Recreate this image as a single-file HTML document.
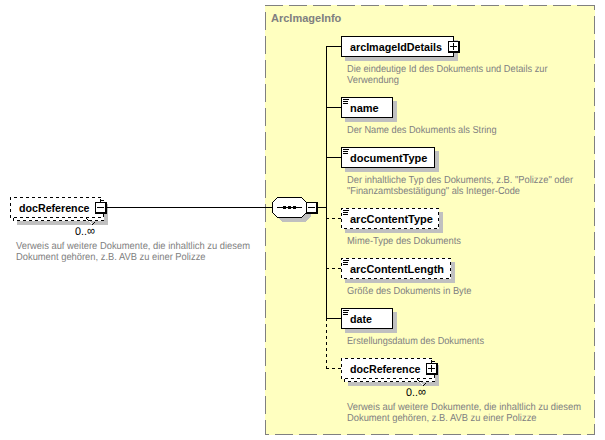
<!DOCTYPE html>
<html><head><meta charset="utf-8"><style>
html,body{margin:0;padding:0;background:#fff;width:605px;height:440px;overflow:hidden}
svg{display:block}
text{font-family:"Liberation Sans",sans-serif}
</style></head><body><svg width="605" height="440" viewBox="0 0 605 440" shape-rendering="crispEdges"><rect x="17" y="204" width="91" height="21" fill="#c0c0c0"/><rect x="13" y="200" width="91" height="21" fill="#fff"/><rect x="13" y="200" width="1" height="1" fill="#000"/><rect x="13" y="201" width="1" height="1" fill="#000"/><rect x="13" y="202" width="1" height="1" fill="#000"/><rect x="13" y="206" width="1" height="1" fill="#000"/><rect x="13" y="207" width="1" height="1" fill="#000"/><rect x="13" y="208" width="1" height="1" fill="#000"/><rect x="13" y="212" width="1" height="1" fill="#000"/><rect x="13" y="213" width="1" height="1" fill="#000"/><rect x="13" y="214" width="1" height="1" fill="#000"/><rect x="13" y="218" width="1" height="1" fill="#000"/><rect x="13" y="219" width="1" height="1" fill="#000"/><rect x="13" y="220" width="1" height="1" fill="#000"/><rect x="17" y="200" width="1" height="1" fill="#000"/><rect x="17" y="220" width="1" height="1" fill="#000"/><rect x="18" y="200" width="1" height="1" fill="#000"/><rect x="18" y="220" width="1" height="1" fill="#000"/><rect x="19" y="200" width="1" height="1" fill="#000"/><rect x="19" y="220" width="1" height="1" fill="#000"/><rect x="23" y="200" width="1" height="1" fill="#000"/><rect x="23" y="220" width="1" height="1" fill="#000"/><rect x="24" y="200" width="1" height="1" fill="#000"/><rect x="24" y="220" width="1" height="1" fill="#000"/><rect x="25" y="200" width="1" height="1" fill="#000"/><rect x="25" y="220" width="1" height="1" fill="#000"/><rect x="29" y="200" width="1" height="1" fill="#000"/><rect x="29" y="220" width="1" height="1" fill="#000"/><rect x="30" y="200" width="1" height="1" fill="#000"/><rect x="30" y="220" width="1" height="1" fill="#000"/><rect x="31" y="200" width="1" height="1" fill="#000"/><rect x="31" y="220" width="1" height="1" fill="#000"/><rect x="35" y="200" width="1" height="1" fill="#000"/><rect x="35" y="220" width="1" height="1" fill="#000"/><rect x="36" y="200" width="1" height="1" fill="#000"/><rect x="36" y="220" width="1" height="1" fill="#000"/><rect x="37" y="200" width="1" height="1" fill="#000"/><rect x="37" y="220" width="1" height="1" fill="#000"/><rect x="41" y="200" width="1" height="1" fill="#000"/><rect x="41" y="220" width="1" height="1" fill="#000"/><rect x="42" y="200" width="1" height="1" fill="#000"/><rect x="42" y="220" width="1" height="1" fill="#000"/><rect x="43" y="200" width="1" height="1" fill="#000"/><rect x="43" y="220" width="1" height="1" fill="#000"/><rect x="47" y="200" width="1" height="1" fill="#000"/><rect x="47" y="220" width="1" height="1" fill="#000"/><rect x="48" y="200" width="1" height="1" fill="#000"/><rect x="48" y="220" width="1" height="1" fill="#000"/><rect x="49" y="200" width="1" height="1" fill="#000"/><rect x="49" y="220" width="1" height="1" fill="#000"/><rect x="53" y="200" width="1" height="1" fill="#000"/><rect x="53" y="220" width="1" height="1" fill="#000"/><rect x="54" y="200" width="1" height="1" fill="#000"/><rect x="54" y="220" width="1" height="1" fill="#000"/><rect x="55" y="200" width="1" height="1" fill="#000"/><rect x="55" y="220" width="1" height="1" fill="#000"/><rect x="59" y="200" width="1" height="1" fill="#000"/><rect x="59" y="220" width="1" height="1" fill="#000"/><rect x="60" y="200" width="1" height="1" fill="#000"/><rect x="60" y="220" width="1" height="1" fill="#000"/><rect x="61" y="200" width="1" height="1" fill="#000"/><rect x="61" y="220" width="1" height="1" fill="#000"/><rect x="65" y="200" width="1" height="1" fill="#000"/><rect x="65" y="220" width="1" height="1" fill="#000"/><rect x="66" y="200" width="1" height="1" fill="#000"/><rect x="66" y="220" width="1" height="1" fill="#000"/><rect x="67" y="200" width="1" height="1" fill="#000"/><rect x="67" y="220" width="1" height="1" fill="#000"/><rect x="71" y="200" width="1" height="1" fill="#000"/><rect x="71" y="220" width="1" height="1" fill="#000"/><rect x="72" y="200" width="1" height="1" fill="#000"/><rect x="72" y="220" width="1" height="1" fill="#000"/><rect x="73" y="200" width="1" height="1" fill="#000"/><rect x="73" y="220" width="1" height="1" fill="#000"/><rect x="77" y="200" width="1" height="1" fill="#000"/><rect x="77" y="220" width="1" height="1" fill="#000"/><rect x="78" y="200" width="1" height="1" fill="#000"/><rect x="78" y="220" width="1" height="1" fill="#000"/><rect x="79" y="200" width="1" height="1" fill="#000"/><rect x="79" y="220" width="1" height="1" fill="#000"/><rect x="83" y="200" width="1" height="1" fill="#000"/><rect x="83" y="220" width="1" height="1" fill="#000"/><rect x="84" y="200" width="1" height="1" fill="#000"/><rect x="84" y="220" width="1" height="1" fill="#000"/><rect x="85" y="200" width="1" height="1" fill="#000"/><rect x="85" y="220" width="1" height="1" fill="#000"/><rect x="89" y="200" width="1" height="1" fill="#000"/><rect x="89" y="220" width="1" height="1" fill="#000"/><rect x="90" y="200" width="1" height="1" fill="#000"/><rect x="90" y="220" width="1" height="1" fill="#000"/><rect x="91" y="200" width="1" height="1" fill="#000"/><rect x="91" y="220" width="1" height="1" fill="#000"/><rect x="95" y="200" width="1" height="1" fill="#000"/><rect x="95" y="220" width="1" height="1" fill="#000"/><rect x="96" y="200" width="1" height="1" fill="#000"/><rect x="96" y="220" width="1" height="1" fill="#000"/><rect x="97" y="200" width="1" height="1" fill="#000"/><rect x="97" y="220" width="1" height="1" fill="#000"/><rect x="101" y="200" width="1" height="1" fill="#000"/><rect x="101" y="220" width="1" height="1" fill="#000"/><rect x="102" y="200" width="1" height="1" fill="#000"/><rect x="102" y="220" width="1" height="1" fill="#000"/><rect x="103" y="200" width="1" height="1" fill="#000"/><rect x="103" y="202" width="1" height="1" fill="#000"/><rect x="103" y="203" width="1" height="1" fill="#000"/><rect x="103" y="204" width="1" height="1" fill="#000"/><rect x="103" y="208" width="1" height="1" fill="#000"/><rect x="103" y="209" width="1" height="1" fill="#000"/><rect x="103" y="210" width="1" height="1" fill="#000"/><rect x="103" y="214" width="1" height="1" fill="#000"/><rect x="103" y="215" width="1" height="1" fill="#000"/><rect x="103" y="216" width="1" height="1" fill="#000"/><rect x="103" y="220" width="1" height="1" fill="#000"/><rect x="10" y="197" width="91" height="21" fill="#fff"/><rect x="10" y="197" width="1" height="1" fill="#000"/><rect x="10" y="198" width="1" height="1" fill="#000"/><rect x="10" y="199" width="1" height="1" fill="#000"/><rect x="10" y="203" width="1" height="1" fill="#000"/><rect x="10" y="204" width="1" height="1" fill="#000"/><rect x="10" y="205" width="1" height="1" fill="#000"/><rect x="10" y="209" width="1" height="1" fill="#000"/><rect x="10" y="210" width="1" height="1" fill="#000"/><rect x="10" y="211" width="1" height="1" fill="#000"/><rect x="10" y="215" width="1" height="1" fill="#000"/><rect x="10" y="216" width="1" height="1" fill="#000"/><rect x="10" y="217" width="1" height="1" fill="#000"/><rect x="14" y="197" width="1" height="1" fill="#000"/><rect x="14" y="217" width="1" height="1" fill="#000"/><rect x="15" y="197" width="1" height="1" fill="#000"/><rect x="15" y="217" width="1" height="1" fill="#000"/><rect x="16" y="197" width="1" height="1" fill="#000"/><rect x="16" y="217" width="1" height="1" fill="#000"/><rect x="20" y="197" width="1" height="1" fill="#000"/><rect x="20" y="217" width="1" height="1" fill="#000"/><rect x="21" y="197" width="1" height="1" fill="#000"/><rect x="21" y="217" width="1" height="1" fill="#000"/><rect x="22" y="197" width="1" height="1" fill="#000"/><rect x="22" y="217" width="1" height="1" fill="#000"/><rect x="26" y="197" width="1" height="1" fill="#000"/><rect x="26" y="217" width="1" height="1" fill="#000"/><rect x="27" y="197" width="1" height="1" fill="#000"/><rect x="27" y="217" width="1" height="1" fill="#000"/><rect x="28" y="197" width="1" height="1" fill="#000"/><rect x="28" y="217" width="1" height="1" fill="#000"/><rect x="32" y="197" width="1" height="1" fill="#000"/><rect x="32" y="217" width="1" height="1" fill="#000"/><rect x="33" y="197" width="1" height="1" fill="#000"/><rect x="33" y="217" width="1" height="1" fill="#000"/><rect x="34" y="197" width="1" height="1" fill="#000"/><rect x="34" y="217" width="1" height="1" fill="#000"/><rect x="38" y="197" width="1" height="1" fill="#000"/><rect x="38" y="217" width="1" height="1" fill="#000"/><rect x="39" y="197" width="1" height="1" fill="#000"/><rect x="39" y="217" width="1" height="1" fill="#000"/><rect x="40" y="197" width="1" height="1" fill="#000"/><rect x="40" y="217" width="1" height="1" fill="#000"/><rect x="44" y="197" width="1" height="1" fill="#000"/><rect x="44" y="217" width="1" height="1" fill="#000"/><rect x="45" y="197" width="1" height="1" fill="#000"/><rect x="45" y="217" width="1" height="1" fill="#000"/><rect x="46" y="197" width="1" height="1" fill="#000"/><rect x="46" y="217" width="1" height="1" fill="#000"/><rect x="50" y="197" width="1" height="1" fill="#000"/><rect x="50" y="217" width="1" height="1" fill="#000"/><rect x="51" y="197" width="1" height="1" fill="#000"/><rect x="51" y="217" width="1" height="1" fill="#000"/><rect x="52" y="197" width="1" height="1" fill="#000"/><rect x="52" y="217" width="1" height="1" fill="#000"/><rect x="56" y="197" width="1" height="1" fill="#000"/><rect x="56" y="217" width="1" height="1" fill="#000"/><rect x="57" y="197" width="1" height="1" fill="#000"/><rect x="57" y="217" width="1" height="1" fill="#000"/><rect x="58" y="197" width="1" height="1" fill="#000"/><rect x="58" y="217" width="1" height="1" fill="#000"/><rect x="62" y="197" width="1" height="1" fill="#000"/><rect x="62" y="217" width="1" height="1" fill="#000"/><rect x="63" y="197" width="1" height="1" fill="#000"/><rect x="63" y="217" width="1" height="1" fill="#000"/><rect x="64" y="197" width="1" height="1" fill="#000"/><rect x="64" y="217" width="1" height="1" fill="#000"/><rect x="68" y="197" width="1" height="1" fill="#000"/><rect x="68" y="217" width="1" height="1" fill="#000"/><rect x="69" y="197" width="1" height="1" fill="#000"/><rect x="69" y="217" width="1" height="1" fill="#000"/><rect x="70" y="197" width="1" height="1" fill="#000"/><rect x="70" y="217" width="1" height="1" fill="#000"/><rect x="74" y="197" width="1" height="1" fill="#000"/><rect x="74" y="217" width="1" height="1" fill="#000"/><rect x="75" y="197" width="1" height="1" fill="#000"/><rect x="75" y="217" width="1" height="1" fill="#000"/><rect x="76" y="197" width="1" height="1" fill="#000"/><rect x="76" y="217" width="1" height="1" fill="#000"/><rect x="80" y="197" width="1" height="1" fill="#000"/><rect x="80" y="217" width="1" height="1" fill="#000"/><rect x="81" y="197" width="1" height="1" fill="#000"/><rect x="81" y="217" width="1" height="1" fill="#000"/><rect x="82" y="197" width="1" height="1" fill="#000"/><rect x="82" y="217" width="1" height="1" fill="#000"/><rect x="86" y="197" width="1" height="1" fill="#000"/><rect x="86" y="217" width="1" height="1" fill="#000"/><rect x="87" y="197" width="1" height="1" fill="#000"/><rect x="87" y="217" width="1" height="1" fill="#000"/><rect x="88" y="197" width="1" height="1" fill="#000"/><rect x="88" y="217" width="1" height="1" fill="#000"/><rect x="92" y="197" width="1" height="1" fill="#000"/><rect x="92" y="217" width="1" height="1" fill="#000"/><rect x="93" y="197" width="1" height="1" fill="#000"/><rect x="93" y="217" width="1" height="1" fill="#000"/><rect x="94" y="197" width="1" height="1" fill="#000"/><rect x="94" y="217" width="1" height="1" fill="#000"/><rect x="98" y="197" width="1" height="1" fill="#000"/><rect x="98" y="217" width="1" height="1" fill="#000"/><rect x="99" y="197" width="1" height="1" fill="#000"/><rect x="99" y="217" width="1" height="1" fill="#000"/><rect x="100" y="197" width="1" height="1" fill="#000"/><rect x="100" y="199" width="1" height="1" fill="#000"/><rect x="100" y="200" width="1" height="1" fill="#000"/><rect x="100" y="201" width="1" height="1" fill="#000"/><rect x="100" y="205" width="1" height="1" fill="#000"/><rect x="100" y="206" width="1" height="1" fill="#000"/><rect x="100" y="207" width="1" height="1" fill="#000"/><rect x="100" y="211" width="1" height="1" fill="#000"/><rect x="100" y="212" width="1" height="1" fill="#000"/><rect x="100" y="213" width="1" height="1" fill="#000"/><rect x="100" y="217" width="1" height="1" fill="#000"/><rect x="95" y="202" width="12" height="12" fill="#000"/><rect x="96" y="203" width="9" height="9" fill="#fff"/><rect x="97" y="207" width="7" height="1" fill="#000"/><rect x="86" y="218" width="1" height="1" fill="#000"/><rect x="87" y="219" width="1" height="1" fill="#000"/><rect x="88" y="220" width="1" height="1" fill="#000"/><rect x="89" y="221" width="1" height="1" fill="#fff"/><rect x="90" y="222" width="1" height="1" fill="#fff"/><rect x="91" y="223" width="1" height="1" fill="#fff"/><rect x="92" y="224" width="1" height="1" fill="#000"/><rect x="93" y="223" width="1" height="1" fill="#000"/><rect x="94" y="222" width="1" height="1" fill="#000"/><rect x="265" y="5" width="330" height="430" fill="#ffffc0"/><rect x="265" y="5" width="18" height="1" fill="#808080"/><rect x="289" y="5" width="18" height="1" fill="#808080"/><rect x="313" y="5" width="18" height="1" fill="#808080"/><rect x="337" y="5" width="18" height="1" fill="#808080"/><rect x="361" y="5" width="18" height="1" fill="#808080"/><rect x="385" y="5" width="18" height="1" fill="#808080"/><rect x="409" y="5" width="18" height="1" fill="#808080"/><rect x="433" y="5" width="18" height="1" fill="#808080"/><rect x="457" y="5" width="18" height="1" fill="#808080"/><rect x="481" y="5" width="18" height="1" fill="#808080"/><rect x="505" y="5" width="18" height="1" fill="#808080"/><rect x="529" y="5" width="18" height="1" fill="#808080"/><rect x="553" y="5" width="18" height="1" fill="#808080"/><rect x="577" y="5" width="18" height="1" fill="#808080"/><rect x="594" y="5" width="1" height="5" fill="#808080"/><rect x="594" y="16" width="1" height="18" fill="#808080"/><rect x="594" y="40" width="1" height="18" fill="#808080"/><rect x="594" y="64" width="1" height="18" fill="#808080"/><rect x="594" y="88" width="1" height="18" fill="#808080"/><rect x="594" y="112" width="1" height="18" fill="#808080"/><rect x="594" y="136" width="1" height="18" fill="#808080"/><rect x="594" y="160" width="1" height="18" fill="#808080"/><rect x="594" y="184" width="1" height="18" fill="#808080"/><rect x="594" y="208" width="1" height="18" fill="#808080"/><rect x="594" y="232" width="1" height="18" fill="#808080"/><rect x="594" y="256" width="1" height="18" fill="#808080"/><rect x="594" y="280" width="1" height="18" fill="#808080"/><rect x="594" y="304" width="1" height="18" fill="#808080"/><rect x="594" y="328" width="1" height="18" fill="#808080"/><rect x="594" y="352" width="1" height="18" fill="#808080"/><rect x="594" y="376" width="1" height="18" fill="#808080"/><rect x="594" y="400" width="1" height="18" fill="#808080"/><rect x="594" y="424" width="1" height="11" fill="#808080"/><rect x="587" y="434" width="8" height="1" fill="#808080"/><rect x="563" y="434" width="18" height="1" fill="#808080"/><rect x="539" y="434" width="18" height="1" fill="#808080"/><rect x="515" y="434" width="18" height="1" fill="#808080"/><rect x="491" y="434" width="18" height="1" fill="#808080"/><rect x="467" y="434" width="18" height="1" fill="#808080"/><rect x="443" y="434" width="18" height="1" fill="#808080"/><rect x="419" y="434" width="18" height="1" fill="#808080"/><rect x="395" y="434" width="18" height="1" fill="#808080"/><rect x="371" y="434" width="18" height="1" fill="#808080"/><rect x="347" y="434" width="18" height="1" fill="#808080"/><rect x="323" y="434" width="18" height="1" fill="#808080"/><rect x="299" y="434" width="18" height="1" fill="#808080"/><rect x="275" y="434" width="18" height="1" fill="#808080"/><rect x="265" y="434" width="4" height="1" fill="#808080"/><rect x="265" y="12" width="1" height="18" fill="#808080"/><rect x="265" y="36" width="1" height="18" fill="#808080"/><rect x="265" y="60" width="1" height="18" fill="#808080"/><rect x="265" y="84" width="1" height="18" fill="#808080"/><rect x="265" y="108" width="1" height="18" fill="#808080"/><rect x="265" y="132" width="1" height="18" fill="#808080"/><rect x="265" y="156" width="1" height="18" fill="#808080"/><rect x="265" y="180" width="1" height="18" fill="#808080"/><rect x="265" y="204" width="1" height="18" fill="#808080"/><rect x="265" y="228" width="1" height="18" fill="#808080"/><rect x="265" y="252" width="1" height="18" fill="#808080"/><rect x="265" y="276" width="1" height="18" fill="#808080"/><rect x="265" y="300" width="1" height="18" fill="#808080"/><rect x="265" y="324" width="1" height="18" fill="#808080"/><rect x="265" y="348" width="1" height="18" fill="#808080"/><rect x="265" y="372" width="1" height="18" fill="#808080"/><rect x="265" y="396" width="1" height="18" fill="#808080"/><rect x="265" y="420" width="1" height="15" fill="#808080"/><rect x="107" y="207" width="166" height="1" fill="#000"/><polygon points="276.5,206.5 281.5,201.5 305.5,201.5 310.5,206.5 310.5,216.5 305.5,221.5 281.5,221.5 276.5,216.5" fill="#c0c0c0"/><polygon points="272.5,202.5 277.5,197.5 301.5,197.5 306.5,202.5 306.5,212.5 301.5,217.5 277.5,217.5 272.5,212.5" fill="#fff" stroke="#000" stroke-width="1"/><rect x="277" y="207" width="25" height="1" fill="#000"/><rect x="283" y="206" width="3" height="3" fill="#000"/><rect x="288" y="206" width="3" height="3" fill="#000"/><rect x="293" y="206" width="3" height="3" fill="#000"/><rect x="306" y="202" width="12" height="12" fill="#000"/><rect x="307" y="203" width="9" height="9" fill="#fff"/><rect x="308" y="207" width="7" height="1" fill="#000"/><rect x="318" y="207" width="9" height="1" fill="#000"/><rect x="326" y="46" width="1" height="273" fill="#000"/><rect x="326" y="319" width="1" height="1" fill="#000"/><rect x="326" y="320" width="1" height="1" fill="#000"/><rect x="326" y="324" width="1" height="1" fill="#000"/><rect x="326" y="325" width="1" height="1" fill="#000"/><rect x="326" y="326" width="1" height="1" fill="#000"/><rect x="326" y="330" width="1" height="1" fill="#000"/><rect x="326" y="331" width="1" height="1" fill="#000"/><rect x="326" y="332" width="1" height="1" fill="#000"/><rect x="326" y="336" width="1" height="1" fill="#000"/><rect x="326" y="337" width="1" height="1" fill="#000"/><rect x="326" y="338" width="1" height="1" fill="#000"/><rect x="326" y="342" width="1" height="1" fill="#000"/><rect x="326" y="343" width="1" height="1" fill="#000"/><rect x="326" y="344" width="1" height="1" fill="#000"/><rect x="326" y="348" width="1" height="1" fill="#000"/><rect x="326" y="349" width="1" height="1" fill="#000"/><rect x="326" y="350" width="1" height="1" fill="#000"/><rect x="326" y="354" width="1" height="1" fill="#000"/><rect x="326" y="355" width="1" height="1" fill="#000"/><rect x="326" y="356" width="1" height="1" fill="#000"/><rect x="326" y="360" width="1" height="1" fill="#000"/><rect x="326" y="361" width="1" height="1" fill="#000"/><rect x="326" y="362" width="1" height="1" fill="#000"/><rect x="326" y="366" width="1" height="1" fill="#000"/><rect x="326" y="367" width="1" height="1" fill="#000"/><rect x="326" y="368" width="1" height="1" fill="#000"/><rect x="327" y="46" width="14" height="1" fill="#000"/><rect x="345" y="40" width="113" height="21" fill="#c0c0c0"/><rect x="341" y="36" width="113" height="21" fill="#000"/><rect x="342" y="37" width="111" height="19" fill="#fff"/><rect x="448" y="41" width="12" height="12" fill="#000"/><rect x="449" y="42" width="9" height="9" fill="#fff"/><rect x="450" y="46" width="7" height="1" fill="#000"/><rect x="453" y="43" width="1" height="7" fill="#000"/><rect x="327" y="107" width="14" height="1" fill="#000"/><rect x="345" y="101" width="52" height="21" fill="#c0c0c0"/><rect x="341" y="97" width="52" height="21" fill="#000"/><rect x="342" y="98" width="50" height="19" fill="#fff"/><rect x="343" y="99" width="6" height="1" fill="#000"/><rect x="343" y="101" width="5" height="1" fill="#000"/><rect x="343" y="103" width="5" height="1" fill="#000"/><rect x="327" y="157" width="14" height="1" fill="#000"/><rect x="345" y="151" width="94" height="21" fill="#c0c0c0"/><rect x="341" y="147" width="94" height="21" fill="#000"/><rect x="342" y="148" width="92" height="19" fill="#fff"/><rect x="343" y="149" width="6" height="1" fill="#000"/><rect x="343" y="151" width="5" height="1" fill="#000"/><rect x="343" y="153" width="5" height="1" fill="#000"/><rect x="327" y="218" width="1" height="1" fill="#000"/><rect x="328" y="218" width="1" height="1" fill="#000"/><rect x="332" y="218" width="1" height="1" fill="#000"/><rect x="333" y="218" width="1" height="1" fill="#000"/><rect x="334" y="218" width="1" height="1" fill="#000"/><rect x="338" y="218" width="1" height="1" fill="#000"/><rect x="339" y="218" width="1" height="1" fill="#000"/><rect x="340" y="218" width="1" height="1" fill="#000"/><rect x="345" y="212" width="98" height="21" fill="#c0c0c0"/><rect x="341" y="208" width="98" height="21" fill="#fff"/><rect x="341" y="208" width="1" height="1" fill="#000"/><rect x="341" y="209" width="1" height="1" fill="#000"/><rect x="341" y="213" width="1" height="1" fill="#000"/><rect x="341" y="214" width="1" height="1" fill="#000"/><rect x="341" y="215" width="1" height="1" fill="#000"/><rect x="341" y="219" width="1" height="1" fill="#000"/><rect x="341" y="220" width="1" height="1" fill="#000"/><rect x="341" y="221" width="1" height="1" fill="#000"/><rect x="341" y="225" width="1" height="1" fill="#000"/><rect x="341" y="226" width="1" height="1" fill="#000"/><rect x="341" y="227" width="1" height="1" fill="#000"/><rect x="342" y="208" width="1" height="1" fill="#000"/><rect x="344" y="228" width="1" height="1" fill="#000"/><rect x="345" y="228" width="1" height="1" fill="#000"/><rect x="346" y="208" width="1" height="1" fill="#000"/><rect x="346" y="228" width="1" height="1" fill="#000"/><rect x="347" y="208" width="1" height="1" fill="#000"/><rect x="348" y="208" width="1" height="1" fill="#000"/><rect x="350" y="228" width="1" height="1" fill="#000"/><rect x="351" y="228" width="1" height="1" fill="#000"/><rect x="352" y="208" width="1" height="1" fill="#000"/><rect x="352" y="228" width="1" height="1" fill="#000"/><rect x="353" y="208" width="1" height="1" fill="#000"/><rect x="354" y="208" width="1" height="1" fill="#000"/><rect x="356" y="228" width="1" height="1" fill="#000"/><rect x="357" y="228" width="1" height="1" fill="#000"/><rect x="358" y="208" width="1" height="1" fill="#000"/><rect x="358" y="228" width="1" height="1" fill="#000"/><rect x="359" y="208" width="1" height="1" fill="#000"/><rect x="360" y="208" width="1" height="1" fill="#000"/><rect x="362" y="228" width="1" height="1" fill="#000"/><rect x="363" y="228" width="1" height="1" fill="#000"/><rect x="364" y="208" width="1" height="1" fill="#000"/><rect x="364" y="228" width="1" height="1" fill="#000"/><rect x="365" y="208" width="1" height="1" fill="#000"/><rect x="366" y="208" width="1" height="1" fill="#000"/><rect x="368" y="228" width="1" height="1" fill="#000"/><rect x="369" y="228" width="1" height="1" fill="#000"/><rect x="370" y="208" width="1" height="1" fill="#000"/><rect x="370" y="228" width="1" height="1" fill="#000"/><rect x="371" y="208" width="1" height="1" fill="#000"/><rect x="372" y="208" width="1" height="1" fill="#000"/><rect x="374" y="228" width="1" height="1" fill="#000"/><rect x="375" y="228" width="1" height="1" fill="#000"/><rect x="376" y="208" width="1" height="1" fill="#000"/><rect x="376" y="228" width="1" height="1" fill="#000"/><rect x="377" y="208" width="1" height="1" fill="#000"/><rect x="378" y="208" width="1" height="1" fill="#000"/><rect x="380" y="228" width="1" height="1" fill="#000"/><rect x="381" y="228" width="1" height="1" fill="#000"/><rect x="382" y="208" width="1" height="1" fill="#000"/><rect x="382" y="228" width="1" height="1" fill="#000"/><rect x="383" y="208" width="1" height="1" fill="#000"/><rect x="384" y="208" width="1" height="1" fill="#000"/><rect x="386" y="228" width="1" height="1" fill="#000"/><rect x="387" y="228" width="1" height="1" fill="#000"/><rect x="388" y="208" width="1" height="1" fill="#000"/><rect x="388" y="228" width="1" height="1" fill="#000"/><rect x="389" y="208" width="1" height="1" fill="#000"/><rect x="390" y="208" width="1" height="1" fill="#000"/><rect x="392" y="228" width="1" height="1" fill="#000"/><rect x="393" y="228" width="1" height="1" fill="#000"/><rect x="394" y="208" width="1" height="1" fill="#000"/><rect x="394" y="228" width="1" height="1" fill="#000"/><rect x="395" y="208" width="1" height="1" fill="#000"/><rect x="396" y="208" width="1" height="1" fill="#000"/><rect x="398" y="228" width="1" height="1" fill="#000"/><rect x="399" y="228" width="1" height="1" fill="#000"/><rect x="400" y="208" width="1" height="1" fill="#000"/><rect x="400" y="228" width="1" height="1" fill="#000"/><rect x="401" y="208" width="1" height="1" fill="#000"/><rect x="402" y="208" width="1" height="1" fill="#000"/><rect x="404" y="228" width="1" height="1" fill="#000"/><rect x="405" y="228" width="1" height="1" fill="#000"/><rect x="406" y="208" width="1" height="1" fill="#000"/><rect x="406" y="228" width="1" height="1" fill="#000"/><rect x="407" y="208" width="1" height="1" fill="#000"/><rect x="408" y="208" width="1" height="1" fill="#000"/><rect x="410" y="228" width="1" height="1" fill="#000"/><rect x="411" y="228" width="1" height="1" fill="#000"/><rect x="412" y="208" width="1" height="1" fill="#000"/><rect x="412" y="228" width="1" height="1" fill="#000"/><rect x="413" y="208" width="1" height="1" fill="#000"/><rect x="414" y="208" width="1" height="1" fill="#000"/><rect x="416" y="228" width="1" height="1" fill="#000"/><rect x="417" y="228" width="1" height="1" fill="#000"/><rect x="418" y="208" width="1" height="1" fill="#000"/><rect x="418" y="228" width="1" height="1" fill="#000"/><rect x="419" y="208" width="1" height="1" fill="#000"/><rect x="420" y="208" width="1" height="1" fill="#000"/><rect x="422" y="228" width="1" height="1" fill="#000"/><rect x="423" y="228" width="1" height="1" fill="#000"/><rect x="424" y="208" width="1" height="1" fill="#000"/><rect x="424" y="228" width="1" height="1" fill="#000"/><rect x="425" y="208" width="1" height="1" fill="#000"/><rect x="426" y="208" width="1" height="1" fill="#000"/><rect x="428" y="228" width="1" height="1" fill="#000"/><rect x="429" y="228" width="1" height="1" fill="#000"/><rect x="430" y="208" width="1" height="1" fill="#000"/><rect x="430" y="228" width="1" height="1" fill="#000"/><rect x="431" y="208" width="1" height="1" fill="#000"/><rect x="432" y="208" width="1" height="1" fill="#000"/><rect x="434" y="228" width="1" height="1" fill="#000"/><rect x="435" y="228" width="1" height="1" fill="#000"/><rect x="436" y="208" width="1" height="1" fill="#000"/><rect x="436" y="228" width="1" height="1" fill="#000"/><rect x="437" y="208" width="1" height="1" fill="#000"/><rect x="438" y="208" width="1" height="1" fill="#000"/><rect x="438" y="212" width="1" height="1" fill="#000"/><rect x="438" y="213" width="1" height="1" fill="#000"/><rect x="438" y="214" width="1" height="1" fill="#000"/><rect x="438" y="218" width="1" height="1" fill="#000"/><rect x="438" y="219" width="1" height="1" fill="#000"/><rect x="438" y="220" width="1" height="1" fill="#000"/><rect x="438" y="224" width="1" height="1" fill="#000"/><rect x="438" y="225" width="1" height="1" fill="#000"/><rect x="438" y="226" width="1" height="1" fill="#000"/><rect x="343" y="210" width="6" height="1" fill="#000"/><rect x="343" y="212" width="5" height="1" fill="#000"/><rect x="343" y="214" width="5" height="1" fill="#000"/><rect x="327" y="268" width="1" height="1" fill="#000"/><rect x="328" y="268" width="1" height="1" fill="#000"/><rect x="332" y="268" width="1" height="1" fill="#000"/><rect x="333" y="268" width="1" height="1" fill="#000"/><rect x="334" y="268" width="1" height="1" fill="#000"/><rect x="338" y="268" width="1" height="1" fill="#000"/><rect x="339" y="268" width="1" height="1" fill="#000"/><rect x="340" y="268" width="1" height="1" fill="#000"/><rect x="345" y="262" width="110" height="21" fill="#c0c0c0"/><rect x="341" y="258" width="110" height="21" fill="#fff"/><rect x="341" y="258" width="1" height="1" fill="#000"/><rect x="341" y="259" width="1" height="1" fill="#000"/><rect x="341" y="263" width="1" height="1" fill="#000"/><rect x="341" y="264" width="1" height="1" fill="#000"/><rect x="341" y="265" width="1" height="1" fill="#000"/><rect x="341" y="269" width="1" height="1" fill="#000"/><rect x="341" y="270" width="1" height="1" fill="#000"/><rect x="341" y="271" width="1" height="1" fill="#000"/><rect x="341" y="275" width="1" height="1" fill="#000"/><rect x="341" y="276" width="1" height="1" fill="#000"/><rect x="341" y="277" width="1" height="1" fill="#000"/><rect x="342" y="258" width="1" height="1" fill="#000"/><rect x="344" y="278" width="1" height="1" fill="#000"/><rect x="345" y="278" width="1" height="1" fill="#000"/><rect x="346" y="258" width="1" height="1" fill="#000"/><rect x="346" y="278" width="1" height="1" fill="#000"/><rect x="347" y="258" width="1" height="1" fill="#000"/><rect x="348" y="258" width="1" height="1" fill="#000"/><rect x="350" y="278" width="1" height="1" fill="#000"/><rect x="351" y="278" width="1" height="1" fill="#000"/><rect x="352" y="258" width="1" height="1" fill="#000"/><rect x="352" y="278" width="1" height="1" fill="#000"/><rect x="353" y="258" width="1" height="1" fill="#000"/><rect x="354" y="258" width="1" height="1" fill="#000"/><rect x="356" y="278" width="1" height="1" fill="#000"/><rect x="357" y="278" width="1" height="1" fill="#000"/><rect x="358" y="258" width="1" height="1" fill="#000"/><rect x="358" y="278" width="1" height="1" fill="#000"/><rect x="359" y="258" width="1" height="1" fill="#000"/><rect x="360" y="258" width="1" height="1" fill="#000"/><rect x="362" y="278" width="1" height="1" fill="#000"/><rect x="363" y="278" width="1" height="1" fill="#000"/><rect x="364" y="258" width="1" height="1" fill="#000"/><rect x="364" y="278" width="1" height="1" fill="#000"/><rect x="365" y="258" width="1" height="1" fill="#000"/><rect x="366" y="258" width="1" height="1" fill="#000"/><rect x="368" y="278" width="1" height="1" fill="#000"/><rect x="369" y="278" width="1" height="1" fill="#000"/><rect x="370" y="258" width="1" height="1" fill="#000"/><rect x="370" y="278" width="1" height="1" fill="#000"/><rect x="371" y="258" width="1" height="1" fill="#000"/><rect x="372" y="258" width="1" height="1" fill="#000"/><rect x="374" y="278" width="1" height="1" fill="#000"/><rect x="375" y="278" width="1" height="1" fill="#000"/><rect x="376" y="258" width="1" height="1" fill="#000"/><rect x="376" y="278" width="1" height="1" fill="#000"/><rect x="377" y="258" width="1" height="1" fill="#000"/><rect x="378" y="258" width="1" height="1" fill="#000"/><rect x="380" y="278" width="1" height="1" fill="#000"/><rect x="381" y="278" width="1" height="1" fill="#000"/><rect x="382" y="258" width="1" height="1" fill="#000"/><rect x="382" y="278" width="1" height="1" fill="#000"/><rect x="383" y="258" width="1" height="1" fill="#000"/><rect x="384" y="258" width="1" height="1" fill="#000"/><rect x="386" y="278" width="1" height="1" fill="#000"/><rect x="387" y="278" width="1" height="1" fill="#000"/><rect x="388" y="258" width="1" height="1" fill="#000"/><rect x="388" y="278" width="1" height="1" fill="#000"/><rect x="389" y="258" width="1" height="1" fill="#000"/><rect x="390" y="258" width="1" height="1" fill="#000"/><rect x="392" y="278" width="1" height="1" fill="#000"/><rect x="393" y="278" width="1" height="1" fill="#000"/><rect x="394" y="258" width="1" height="1" fill="#000"/><rect x="394" y="278" width="1" height="1" fill="#000"/><rect x="395" y="258" width="1" height="1" fill="#000"/><rect x="396" y="258" width="1" height="1" fill="#000"/><rect x="398" y="278" width="1" height="1" fill="#000"/><rect x="399" y="278" width="1" height="1" fill="#000"/><rect x="400" y="258" width="1" height="1" fill="#000"/><rect x="400" y="278" width="1" height="1" fill="#000"/><rect x="401" y="258" width="1" height="1" fill="#000"/><rect x="402" y="258" width="1" height="1" fill="#000"/><rect x="404" y="278" width="1" height="1" fill="#000"/><rect x="405" y="278" width="1" height="1" fill="#000"/><rect x="406" y="258" width="1" height="1" fill="#000"/><rect x="406" y="278" width="1" height="1" fill="#000"/><rect x="407" y="258" width="1" height="1" fill="#000"/><rect x="408" y="258" width="1" height="1" fill="#000"/><rect x="410" y="278" width="1" height="1" fill="#000"/><rect x="411" y="278" width="1" height="1" fill="#000"/><rect x="412" y="258" width="1" height="1" fill="#000"/><rect x="412" y="278" width="1" height="1" fill="#000"/><rect x="413" y="258" width="1" height="1" fill="#000"/><rect x="414" y="258" width="1" height="1" fill="#000"/><rect x="416" y="278" width="1" height="1" fill="#000"/><rect x="417" y="278" width="1" height="1" fill="#000"/><rect x="418" y="258" width="1" height="1" fill="#000"/><rect x="418" y="278" width="1" height="1" fill="#000"/><rect x="419" y="258" width="1" height="1" fill="#000"/><rect x="420" y="258" width="1" height="1" fill="#000"/><rect x="422" y="278" width="1" height="1" fill="#000"/><rect x="423" y="278" width="1" height="1" fill="#000"/><rect x="424" y="258" width="1" height="1" fill="#000"/><rect x="424" y="278" width="1" height="1" fill="#000"/><rect x="425" y="258" width="1" height="1" fill="#000"/><rect x="426" y="258" width="1" height="1" fill="#000"/><rect x="428" y="278" width="1" height="1" fill="#000"/><rect x="429" y="278" width="1" height="1" fill="#000"/><rect x="430" y="258" width="1" height="1" fill="#000"/><rect x="430" y="278" width="1" height="1" fill="#000"/><rect x="431" y="258" width="1" height="1" fill="#000"/><rect x="432" y="258" width="1" height="1" fill="#000"/><rect x="434" y="278" width="1" height="1" fill="#000"/><rect x="435" y="278" width="1" height="1" fill="#000"/><rect x="436" y="258" width="1" height="1" fill="#000"/><rect x="436" y="278" width="1" height="1" fill="#000"/><rect x="437" y="258" width="1" height="1" fill="#000"/><rect x="438" y="258" width="1" height="1" fill="#000"/><rect x="440" y="278" width="1" height="1" fill="#000"/><rect x="441" y="278" width="1" height="1" fill="#000"/><rect x="442" y="258" width="1" height="1" fill="#000"/><rect x="442" y="278" width="1" height="1" fill="#000"/><rect x="443" y="258" width="1" height="1" fill="#000"/><rect x="444" y="258" width="1" height="1" fill="#000"/><rect x="446" y="278" width="1" height="1" fill="#000"/><rect x="447" y="278" width="1" height="1" fill="#000"/><rect x="448" y="258" width="1" height="1" fill="#000"/><rect x="448" y="278" width="1" height="1" fill="#000"/><rect x="449" y="258" width="1" height="1" fill="#000"/><rect x="450" y="258" width="1" height="1" fill="#000"/><rect x="450" y="262" width="1" height="1" fill="#000"/><rect x="450" y="263" width="1" height="1" fill="#000"/><rect x="450" y="264" width="1" height="1" fill="#000"/><rect x="450" y="268" width="1" height="1" fill="#000"/><rect x="450" y="269" width="1" height="1" fill="#000"/><rect x="450" y="270" width="1" height="1" fill="#000"/><rect x="450" y="274" width="1" height="1" fill="#000"/><rect x="450" y="275" width="1" height="1" fill="#000"/><rect x="450" y="276" width="1" height="1" fill="#000"/><rect x="343" y="260" width="6" height="1" fill="#000"/><rect x="343" y="262" width="5" height="1" fill="#000"/><rect x="343" y="264" width="5" height="1" fill="#000"/><rect x="327" y="318" width="14" height="1" fill="#000"/><rect x="345" y="312" width="52" height="21" fill="#c0c0c0"/><rect x="341" y="308" width="52" height="21" fill="#000"/><rect x="342" y="309" width="50" height="19" fill="#fff"/><rect x="343" y="310" width="6" height="1" fill="#000"/><rect x="343" y="312" width="5" height="1" fill="#000"/><rect x="343" y="314" width="5" height="1" fill="#000"/><rect x="327" y="368" width="1" height="1" fill="#000"/><rect x="328" y="368" width="1" height="1" fill="#000"/><rect x="332" y="368" width="1" height="1" fill="#000"/><rect x="333" y="368" width="1" height="1" fill="#000"/><rect x="334" y="368" width="1" height="1" fill="#000"/><rect x="338" y="368" width="1" height="1" fill="#000"/><rect x="339" y="368" width="1" height="1" fill="#000"/><rect x="340" y="368" width="1" height="1" fill="#000"/><rect x="348" y="365" width="91" height="21" fill="#c0c0c0"/><rect x="344" y="361" width="91" height="21" fill="#fff"/><rect x="344" y="361" width="1" height="1" fill="#000"/><rect x="344" y="362" width="1" height="1" fill="#000"/><rect x="344" y="363" width="1" height="1" fill="#000"/><rect x="344" y="367" width="1" height="1" fill="#000"/><rect x="344" y="368" width="1" height="1" fill="#000"/><rect x="344" y="369" width="1" height="1" fill="#000"/><rect x="344" y="373" width="1" height="1" fill="#000"/><rect x="344" y="374" width="1" height="1" fill="#000"/><rect x="344" y="375" width="1" height="1" fill="#000"/><rect x="344" y="379" width="1" height="1" fill="#000"/><rect x="344" y="380" width="1" height="1" fill="#000"/><rect x="344" y="381" width="1" height="1" fill="#000"/><rect x="348" y="361" width="1" height="1" fill="#000"/><rect x="348" y="381" width="1" height="1" fill="#000"/><rect x="349" y="361" width="1" height="1" fill="#000"/><rect x="349" y="381" width="1" height="1" fill="#000"/><rect x="350" y="361" width="1" height="1" fill="#000"/><rect x="350" y="381" width="1" height="1" fill="#000"/><rect x="354" y="361" width="1" height="1" fill="#000"/><rect x="354" y="381" width="1" height="1" fill="#000"/><rect x="355" y="361" width="1" height="1" fill="#000"/><rect x="355" y="381" width="1" height="1" fill="#000"/><rect x="356" y="361" width="1" height="1" fill="#000"/><rect x="356" y="381" width="1" height="1" fill="#000"/><rect x="360" y="361" width="1" height="1" fill="#000"/><rect x="360" y="381" width="1" height="1" fill="#000"/><rect x="361" y="361" width="1" height="1" fill="#000"/><rect x="361" y="381" width="1" height="1" fill="#000"/><rect x="362" y="361" width="1" height="1" fill="#000"/><rect x="362" y="381" width="1" height="1" fill="#000"/><rect x="366" y="361" width="1" height="1" fill="#000"/><rect x="366" y="381" width="1" height="1" fill="#000"/><rect x="367" y="361" width="1" height="1" fill="#000"/><rect x="367" y="381" width="1" height="1" fill="#000"/><rect x="368" y="361" width="1" height="1" fill="#000"/><rect x="368" y="381" width="1" height="1" fill="#000"/><rect x="372" y="361" width="1" height="1" fill="#000"/><rect x="372" y="381" width="1" height="1" fill="#000"/><rect x="373" y="361" width="1" height="1" fill="#000"/><rect x="373" y="381" width="1" height="1" fill="#000"/><rect x="374" y="361" width="1" height="1" fill="#000"/><rect x="374" y="381" width="1" height="1" fill="#000"/><rect x="378" y="361" width="1" height="1" fill="#000"/><rect x="378" y="381" width="1" height="1" fill="#000"/><rect x="379" y="361" width="1" height="1" fill="#000"/><rect x="379" y="381" width="1" height="1" fill="#000"/><rect x="380" y="361" width="1" height="1" fill="#000"/><rect x="380" y="381" width="1" height="1" fill="#000"/><rect x="384" y="361" width="1" height="1" fill="#000"/><rect x="384" y="381" width="1" height="1" fill="#000"/><rect x="385" y="361" width="1" height="1" fill="#000"/><rect x="385" y="381" width="1" height="1" fill="#000"/><rect x="386" y="361" width="1" height="1" fill="#000"/><rect x="386" y="381" width="1" height="1" fill="#000"/><rect x="390" y="361" width="1" height="1" fill="#000"/><rect x="390" y="381" width="1" height="1" fill="#000"/><rect x="391" y="361" width="1" height="1" fill="#000"/><rect x="391" y="381" width="1" height="1" fill="#000"/><rect x="392" y="361" width="1" height="1" fill="#000"/><rect x="392" y="381" width="1" height="1" fill="#000"/><rect x="396" y="361" width="1" height="1" fill="#000"/><rect x="396" y="381" width="1" height="1" fill="#000"/><rect x="397" y="361" width="1" height="1" fill="#000"/><rect x="397" y="381" width="1" height="1" fill="#000"/><rect x="398" y="361" width="1" height="1" fill="#000"/><rect x="398" y="381" width="1" height="1" fill="#000"/><rect x="402" y="361" width="1" height="1" fill="#000"/><rect x="402" y="381" width="1" height="1" fill="#000"/><rect x="403" y="361" width="1" height="1" fill="#000"/><rect x="403" y="381" width="1" height="1" fill="#000"/><rect x="404" y="361" width="1" height="1" fill="#000"/><rect x="404" y="381" width="1" height="1" fill="#000"/><rect x="408" y="361" width="1" height="1" fill="#000"/><rect x="408" y="381" width="1" height="1" fill="#000"/><rect x="409" y="361" width="1" height="1" fill="#000"/><rect x="409" y="381" width="1" height="1" fill="#000"/><rect x="410" y="361" width="1" height="1" fill="#000"/><rect x="410" y="381" width="1" height="1" fill="#000"/><rect x="414" y="361" width="1" height="1" fill="#000"/><rect x="414" y="381" width="1" height="1" fill="#000"/><rect x="415" y="361" width="1" height="1" fill="#000"/><rect x="415" y="381" width="1" height="1" fill="#000"/><rect x="416" y="361" width="1" height="1" fill="#000"/><rect x="416" y="381" width="1" height="1" fill="#000"/><rect x="420" y="361" width="1" height="1" fill="#000"/><rect x="420" y="381" width="1" height="1" fill="#000"/><rect x="421" y="361" width="1" height="1" fill="#000"/><rect x="421" y="381" width="1" height="1" fill="#000"/><rect x="422" y="361" width="1" height="1" fill="#000"/><rect x="422" y="381" width="1" height="1" fill="#000"/><rect x="426" y="361" width="1" height="1" fill="#000"/><rect x="426" y="381" width="1" height="1" fill="#000"/><rect x="427" y="361" width="1" height="1" fill="#000"/><rect x="427" y="381" width="1" height="1" fill="#000"/><rect x="428" y="361" width="1" height="1" fill="#000"/><rect x="428" y="381" width="1" height="1" fill="#000"/><rect x="432" y="361" width="1" height="1" fill="#000"/><rect x="432" y="381" width="1" height="1" fill="#000"/><rect x="433" y="361" width="1" height="1" fill="#000"/><rect x="433" y="381" width="1" height="1" fill="#000"/><rect x="434" y="361" width="1" height="1" fill="#000"/><rect x="434" y="363" width="1" height="1" fill="#000"/><rect x="434" y="364" width="1" height="1" fill="#000"/><rect x="434" y="365" width="1" height="1" fill="#000"/><rect x="434" y="369" width="1" height="1" fill="#000"/><rect x="434" y="370" width="1" height="1" fill="#000"/><rect x="434" y="371" width="1" height="1" fill="#000"/><rect x="434" y="375" width="1" height="1" fill="#000"/><rect x="434" y="376" width="1" height="1" fill="#000"/><rect x="434" y="377" width="1" height="1" fill="#000"/><rect x="434" y="381" width="1" height="1" fill="#000"/><rect x="341" y="358" width="91" height="21" fill="#fff"/><rect x="341" y="358" width="1" height="1" fill="#000"/><rect x="341" y="359" width="1" height="1" fill="#000"/><rect x="341" y="360" width="1" height="1" fill="#000"/><rect x="341" y="364" width="1" height="1" fill="#000"/><rect x="341" y="365" width="1" height="1" fill="#000"/><rect x="341" y="366" width="1" height="1" fill="#000"/><rect x="341" y="370" width="1" height="1" fill="#000"/><rect x="341" y="371" width="1" height="1" fill="#000"/><rect x="341" y="372" width="1" height="1" fill="#000"/><rect x="341" y="376" width="1" height="1" fill="#000"/><rect x="341" y="377" width="1" height="1" fill="#000"/><rect x="341" y="378" width="1" height="1" fill="#000"/><rect x="345" y="358" width="1" height="1" fill="#000"/><rect x="345" y="378" width="1" height="1" fill="#000"/><rect x="346" y="358" width="1" height="1" fill="#000"/><rect x="346" y="378" width="1" height="1" fill="#000"/><rect x="347" y="358" width="1" height="1" fill="#000"/><rect x="347" y="378" width="1" height="1" fill="#000"/><rect x="351" y="358" width="1" height="1" fill="#000"/><rect x="351" y="378" width="1" height="1" fill="#000"/><rect x="352" y="358" width="1" height="1" fill="#000"/><rect x="352" y="378" width="1" height="1" fill="#000"/><rect x="353" y="358" width="1" height="1" fill="#000"/><rect x="353" y="378" width="1" height="1" fill="#000"/><rect x="357" y="358" width="1" height="1" fill="#000"/><rect x="357" y="378" width="1" height="1" fill="#000"/><rect x="358" y="358" width="1" height="1" fill="#000"/><rect x="358" y="378" width="1" height="1" fill="#000"/><rect x="359" y="358" width="1" height="1" fill="#000"/><rect x="359" y="378" width="1" height="1" fill="#000"/><rect x="363" y="358" width="1" height="1" fill="#000"/><rect x="363" y="378" width="1" height="1" fill="#000"/><rect x="364" y="358" width="1" height="1" fill="#000"/><rect x="364" y="378" width="1" height="1" fill="#000"/><rect x="365" y="358" width="1" height="1" fill="#000"/><rect x="365" y="378" width="1" height="1" fill="#000"/><rect x="369" y="358" width="1" height="1" fill="#000"/><rect x="369" y="378" width="1" height="1" fill="#000"/><rect x="370" y="358" width="1" height="1" fill="#000"/><rect x="370" y="378" width="1" height="1" fill="#000"/><rect x="371" y="358" width="1" height="1" fill="#000"/><rect x="371" y="378" width="1" height="1" fill="#000"/><rect x="375" y="358" width="1" height="1" fill="#000"/><rect x="375" y="378" width="1" height="1" fill="#000"/><rect x="376" y="358" width="1" height="1" fill="#000"/><rect x="376" y="378" width="1" height="1" fill="#000"/><rect x="377" y="358" width="1" height="1" fill="#000"/><rect x="377" y="378" width="1" height="1" fill="#000"/><rect x="381" y="358" width="1" height="1" fill="#000"/><rect x="381" y="378" width="1" height="1" fill="#000"/><rect x="382" y="358" width="1" height="1" fill="#000"/><rect x="382" y="378" width="1" height="1" fill="#000"/><rect x="383" y="358" width="1" height="1" fill="#000"/><rect x="383" y="378" width="1" height="1" fill="#000"/><rect x="387" y="358" width="1" height="1" fill="#000"/><rect x="387" y="378" width="1" height="1" fill="#000"/><rect x="388" y="358" width="1" height="1" fill="#000"/><rect x="388" y="378" width="1" height="1" fill="#000"/><rect x="389" y="358" width="1" height="1" fill="#000"/><rect x="389" y="378" width="1" height="1" fill="#000"/><rect x="393" y="358" width="1" height="1" fill="#000"/><rect x="393" y="378" width="1" height="1" fill="#000"/><rect x="394" y="358" width="1" height="1" fill="#000"/><rect x="394" y="378" width="1" height="1" fill="#000"/><rect x="395" y="358" width="1" height="1" fill="#000"/><rect x="395" y="378" width="1" height="1" fill="#000"/><rect x="399" y="358" width="1" height="1" fill="#000"/><rect x="399" y="378" width="1" height="1" fill="#000"/><rect x="400" y="358" width="1" height="1" fill="#000"/><rect x="400" y="378" width="1" height="1" fill="#000"/><rect x="401" y="358" width="1" height="1" fill="#000"/><rect x="401" y="378" width="1" height="1" fill="#000"/><rect x="405" y="358" width="1" height="1" fill="#000"/><rect x="405" y="378" width="1" height="1" fill="#000"/><rect x="406" y="358" width="1" height="1" fill="#000"/><rect x="406" y="378" width="1" height="1" fill="#000"/><rect x="407" y="358" width="1" height="1" fill="#000"/><rect x="407" y="378" width="1" height="1" fill="#000"/><rect x="411" y="358" width="1" height="1" fill="#000"/><rect x="411" y="378" width="1" height="1" fill="#000"/><rect x="412" y="358" width="1" height="1" fill="#000"/><rect x="412" y="378" width="1" height="1" fill="#000"/><rect x="413" y="358" width="1" height="1" fill="#000"/><rect x="413" y="378" width="1" height="1" fill="#000"/><rect x="417" y="358" width="1" height="1" fill="#000"/><rect x="417" y="378" width="1" height="1" fill="#000"/><rect x="418" y="358" width="1" height="1" fill="#000"/><rect x="418" y="378" width="1" height="1" fill="#000"/><rect x="419" y="358" width="1" height="1" fill="#000"/><rect x="419" y="378" width="1" height="1" fill="#000"/><rect x="423" y="358" width="1" height="1" fill="#000"/><rect x="423" y="378" width="1" height="1" fill="#000"/><rect x="424" y="358" width="1" height="1" fill="#000"/><rect x="424" y="378" width="1" height="1" fill="#000"/><rect x="425" y="358" width="1" height="1" fill="#000"/><rect x="425" y="378" width="1" height="1" fill="#000"/><rect x="429" y="358" width="1" height="1" fill="#000"/><rect x="429" y="378" width="1" height="1" fill="#000"/><rect x="430" y="358" width="1" height="1" fill="#000"/><rect x="430" y="378" width="1" height="1" fill="#000"/><rect x="431" y="358" width="1" height="1" fill="#000"/><rect x="431" y="360" width="1" height="1" fill="#000"/><rect x="431" y="361" width="1" height="1" fill="#000"/><rect x="431" y="362" width="1" height="1" fill="#000"/><rect x="431" y="366" width="1" height="1" fill="#000"/><rect x="431" y="367" width="1" height="1" fill="#000"/><rect x="431" y="368" width="1" height="1" fill="#000"/><rect x="431" y="372" width="1" height="1" fill="#000"/><rect x="431" y="373" width="1" height="1" fill="#000"/><rect x="431" y="374" width="1" height="1" fill="#000"/><rect x="431" y="378" width="1" height="1" fill="#000"/><rect x="426" y="363" width="12" height="12" fill="#000"/><rect x="427" y="364" width="9" height="9" fill="#fff"/><rect x="428" y="368" width="7" height="1" fill="#000"/><rect x="431" y="365" width="1" height="7" fill="#000"/><rect x="417" y="379" width="1" height="1" fill="#000"/><rect x="418" y="380" width="1" height="1" fill="#000"/><rect x="419" y="381" width="1" height="1" fill="#000"/><rect x="420" y="382" width="1" height="1" fill="#fff"/><rect x="421" y="383" width="1" height="1" fill="#fff"/><rect x="422" y="384" width="1" height="1" fill="#fff"/><rect x="423" y="385" width="1" height="1" fill="#000"/><rect x="424" y="384" width="1" height="1" fill="#000"/><rect x="425" y="383" width="1" height="1" fill="#000"/><g font-family="Liberation Sans, sans-serif" shape-rendering="auto"><text x="19" y="212" font-size="11" font-weight="bold" fill="#000" textLength="70.5" lengthAdjust="spacingAndGlyphs">docReference</text><text x="75" y="235" font-size="11" text-rendering="geometricPrecision" fill="#000" textLength="12" lengthAdjust="spacingAndGlyphs">0..</text><text x="87" y="235" font-size="13" text-rendering="geometricPrecision" fill="#000" textLength="8" lengthAdjust="spacingAndGlyphs">∞</text><text x="16" y="249" font-size="10.2" text-rendering="geometricPrecision" fill="#808080" textLength="234" lengthAdjust="spacingAndGlyphs">Verweis auf weitere Dokumente, die inhaltlich zu diesem</text><text x="16" y="260" font-size="10.2" text-rendering="geometricPrecision" fill="#808080" textLength="189.5" lengthAdjust="spacingAndGlyphs">Dokument gehören, z.B. AVB zu einer Polizze</text><text x="271" y="22" font-size="11" font-weight="bold" fill="#808080">ArcImageInfo</text><text x="350" y="51" font-size="11" font-weight="bold" fill="#000" textLength="92" lengthAdjust="spacingAndGlyphs">arcImageIdDetails</text><text x="347" y="72" font-size="10.2" text-rendering="geometricPrecision" fill="#808080" textLength="200.5" lengthAdjust="spacingAndGlyphs">Die eindeutige Id des Dokuments und Details zur</text><text x="347" y="83" font-size="10.2" text-rendering="geometricPrecision" fill="#808080" textLength="52" lengthAdjust="spacingAndGlyphs">Verwendung</text><text x="350" y="112" font-size="11" font-weight="bold" fill="#000">name</text><text x="347" y="133" font-size="10.2" text-rendering="geometricPrecision" fill="#808080" textLength="149.5" lengthAdjust="spacingAndGlyphs">Der Name des Dokuments als String</text><text x="350" y="162" font-size="11" font-weight="bold" fill="#000">documentType</text><text x="347" y="183" font-size="10.2" text-rendering="geometricPrecision" fill="#808080" textLength="226" lengthAdjust="spacingAndGlyphs">Der inhaltliche Typ des Dokuments, z.B. &quot;Polizze&quot; oder</text><text x="347" y="194" font-size="10.2" text-rendering="geometricPrecision" fill="#808080" textLength="173" lengthAdjust="spacingAndGlyphs">&quot;Finanzamtsbestätigung&quot; als Integer-Code</text><text x="350" y="223" font-size="11" font-weight="bold" fill="#000">arcContentType</text><text x="347" y="244" font-size="10.2" text-rendering="geometricPrecision" fill="#808080" textLength="114" lengthAdjust="spacingAndGlyphs">Mime-Type des Dokuments</text><text x="350" y="273" font-size="11" font-weight="bold" fill="#000" textLength="94" lengthAdjust="spacingAndGlyphs">arcContentLength</text><text x="347" y="294" font-size="10.2" text-rendering="geometricPrecision" fill="#808080" textLength="124.5" lengthAdjust="spacingAndGlyphs">Größe des Dokuments in Byte</text><text x="350" y="323" font-size="11" font-weight="bold" fill="#000" textLength="22" lengthAdjust="spacingAndGlyphs">date</text><text x="347" y="344" font-size="10.2" text-rendering="geometricPrecision" fill="#808080" textLength="137" lengthAdjust="spacingAndGlyphs">Erstellungsdatum des Dokuments</text><text x="350" y="373" font-size="11" font-weight="bold" fill="#000" textLength="70.5" lengthAdjust="spacingAndGlyphs">docReference</text><text x="406" y="396" font-size="11" text-rendering="geometricPrecision" fill="#000" textLength="12" lengthAdjust="spacingAndGlyphs">0..</text><text x="418" y="396" font-size="13" text-rendering="geometricPrecision" fill="#000" textLength="8" lengthAdjust="spacingAndGlyphs">∞</text><text x="347" y="410" font-size="10.2" text-rendering="geometricPrecision" fill="#808080" textLength="234" lengthAdjust="spacingAndGlyphs">Verweis auf weitere Dokumente, die inhaltlich zu diesem</text><text x="347" y="421" font-size="10.2" text-rendering="geometricPrecision" fill="#808080" textLength="189.5" lengthAdjust="spacingAndGlyphs">Dokument gehören, z.B. AVB zu einer Polizze</text></g></svg></body></html>
